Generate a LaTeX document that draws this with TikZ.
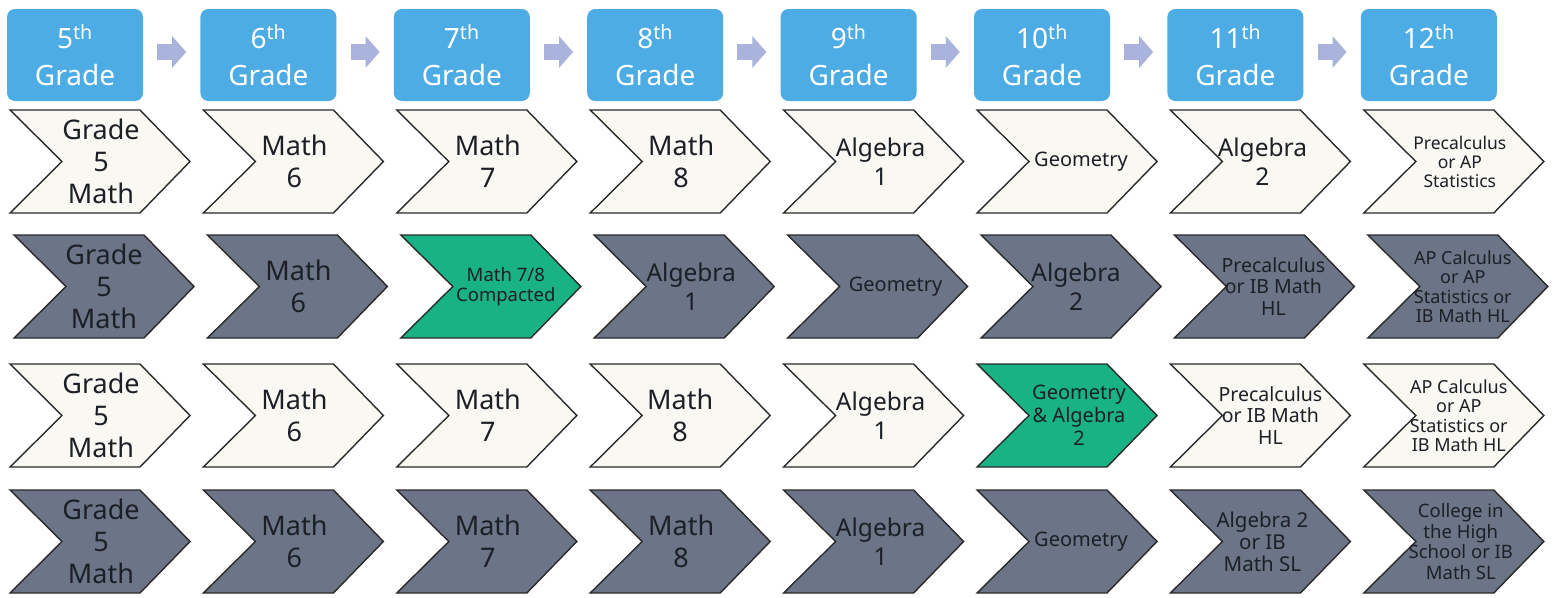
\documentclass[tikz,border=0pt]{standalone}
\usepackage{fontspec}
\setmainfont{Noto Sans}
\usetikzlibrary{arrows.meta}
\definecolor{hdrblue}{HTML}{4DACE4}
\definecolor{arrlav}{HTML}{A9B3DC}
\definecolor{chlightfill}{HTML}{F9F8F3}
\definecolor{chdarkfill}{HTML}{6B7587}
\definecolor{chgreenfill}{HTML}{19B284}
\definecolor{chline}{HTML}{2A2A2A}
\definecolor{chtxt}{HTML}{1C1F26}
\newcommand\szA{\fontsize{27}{32}\selectfont}
\newcommand\szB{\fontsize{24.5}{29}\selectfont}
\newcommand\szC{\fontsize{20}{23}\selectfont}
\newcommand\szD{\fontsize{18.5}{20.5}\selectfont}
\newcommand\szE{\fontsize{17.5}{19}\selectfont}
\newcommand\szH{\fontsize{28}{37}\selectfont}
\newcommand\chv[7]{% left, top, style, name, xoffset, font, text
  \draw[#3] (#1,#2) -- ++(130,0) -- ++(50,51.5) -- ++(-50,51.5) -- ++(-130,0) -- ++(52,-51.5) -- cycle;
  \node[chtext,font=#6] (#4) at ({#1+#5},{#2+51.5}) {#7};
}
\begin{document}
\begin{tikzpicture}[x=1pt,y=-1pt,
  hdr/.style={fill=hdrblue,rounded corners=8pt,minimum width=136pt,minimum height=92pt,
    text=white,align=center,inner sep=0pt,font=\szH},
  harrow/.style={draw=arrlav,line width=16pt,shorten <=14pt,shorten >=14pt,
    -{Triangle[length=14pt,width=31pt]}},
  chlight/.style={fill=chlightfill,draw=chline,line width=1.4pt,line join=miter},
  chdark/.style={fill=chdarkfill,draw=chline,line width=1.4pt,line join=miter},
  chgreen/.style={fill=chgreenfill,draw=chline,line width=1.4pt,line join=miter},
  chtext/.style={text=chtxt,align=center,inner sep=0pt}]
\fill[white] (0,0) rectangle (1554,597);
\useasboundingbox (0,0) rectangle (1554,597);
% headers
\node[hdr] (h5) at (75,55) {5\textsuperscript{th}\\Grade};
\node[hdr] (h6) at (268.4,55) {6\textsuperscript{th}\\Grade};
\node[hdr] (h7) at (461.8,55) {7\textsuperscript{th}\\Grade};
\node[hdr] (h8) at (655.2,55) {8\textsuperscript{th}\\Grade};
\node[hdr] (h9) at (848.6,55) {9\textsuperscript{th}\\Grade};
\node[hdr] (h10) at (1042,55) {10\textsuperscript{th}\\Grade};
\node[hdr] (h11) at (1235.4,55) {11\textsuperscript{th}\\Grade};
\node[hdr] (h12) at (1428.8,55) {12\textsuperscript{th}\\Grade};
\draw[harrow] (h5.east |- 0,52) -- (h6.west |- 0,52);
\draw[harrow] (h6.east |- 0,52) -- (h7.west |- 0,52);
\draw[harrow] (h7.east |- 0,52) -- (h8.west |- 0,52);
\draw[harrow] (h8.east |- 0,52) -- (h9.west |- 0,52);
\draw[harrow] (h9.east |- 0,52) -- (h10.west |- 0,52);
\draw[harrow] (h10.east |- 0,52) -- (h11.west |- 0,52);
\draw[harrow] (h11.east |- 0,52) -- (h12.west |- 0,52);
% row 1
\chv{10}{110}{chlight}{a1}{91}{\szA}{Grade\\5\\Math}
\chv{203.4}{110}{chlight}{a2}{91}{\szA}{Math\\6}
\chv{396.8}{110}{chlight}{a3}{91}{\szA}{Math\\7}
\chv{590.2}{110}{chlight}{a4}{91}{\szA}{Math\\8}
\chv{783.6}{110}{chlight}{a5}{97}{\szB}{Algebra\\1}
\chv{977}{110}{chlight}{a6}{104}{\szC}{Geometry}
\chv{1170.4}{110}{chlight}{a7}{92}{\szB}{Algebra\\2}
\chv{1363.8}{110}{chlight}{a8}{96}{\szE}{Precalculus\\or AP\\Statistics}
% row 2
\chv{14}{235}{chdark}{b1}{90}{\szA}{Grade\\5\\Math}
\chv{207.4}{235}{chdark}{b2}{91}{\szA}{Math\\6}
\chv{400.8}{235}{chgreen}{b3}{105}{\szD}{Math 7/8\\Compacted}
\chv{594.2}{235}{chdark}{b4}{97}{\szB}{Algebra\\1}
\chv{787.6}{235}{chdark}{b5}{108}{\szC}{Geometry}
\chv{981}{235}{chdark}{b6}{95}{\szB}{Algebra\\2}
\chv{1174.4}{235}{chdark}{b7}{99}{\fontsize{19.5}{21.5}\selectfont}{Precalculus\\or IB Math\\HL}
\chv{1367.8}{235}{chdark}{b8}{95}{\fontsize{18}{19.5}\selectfont}{AP Calculus\\or AP\\Statistics or\\IB Math HL}
% row 3
\chv{10}{364}{chlight}{c1}{91}{\szA}{Grade\\5\\Math}
\chv{203.4}{364}{chlight}{c2}{91}{\szA}{Math\\6}
\chv{396.8}{364}{chlight}{c3}{91}{\szA}{Math\\7}
\chv{590.2}{364}{chlight}{c4}{90}{\szA}{Math\\8}
\chv{783.6}{364}{chlight}{c5}{97}{\szB}{Algebra\\1}
\chv{977}{364}{chgreen}{c6}{102}{\szC}{Geometry\\\& Algebra\\2}
\chv{1170.4}{364}{chlight}{c7}{100}{\fontsize{19.5}{21.5}\selectfont}{Precalculus\\or IB Math\\HL}
\chv{1363.8}{364}{chlight}{c8}{95}{\fontsize{18}{19.5}\selectfont}{AP Calculus\\or AP\\Statistics or\\IB Math HL}
% row 4
\chv{10}{490}{chdark}{d1}{91}{\szA}{Grade\\5\\Math}
\chv{203.4}{490}{chdark}{d2}{91}{\szA}{Math\\6}
\chv{396.8}{490}{chdark}{d3}{91}{\szA}{Math\\7}
\chv{590.2}{490}{chdark}{d4}{91}{\szA}{Math\\8}
\chv{783.6}{490}{chdark}{d5}{97}{\szB}{Algebra\\1}
\chv{977}{490}{chdark}{d6}{104}{\szC}{Geometry}
\chv{1170.4}{490}{chdark}{d7}{92}{\fontsize{20.5}{22}\selectfont}{Algebra 2\\or IB\\Math SL}
\chv{1363.8}{490}{chdark}{d8}{97}{\fontsize{18.5}{20.5}\selectfont}{College in\\the High\\School or IB\\Math SL}
\end{tikzpicture}
\end{document}
